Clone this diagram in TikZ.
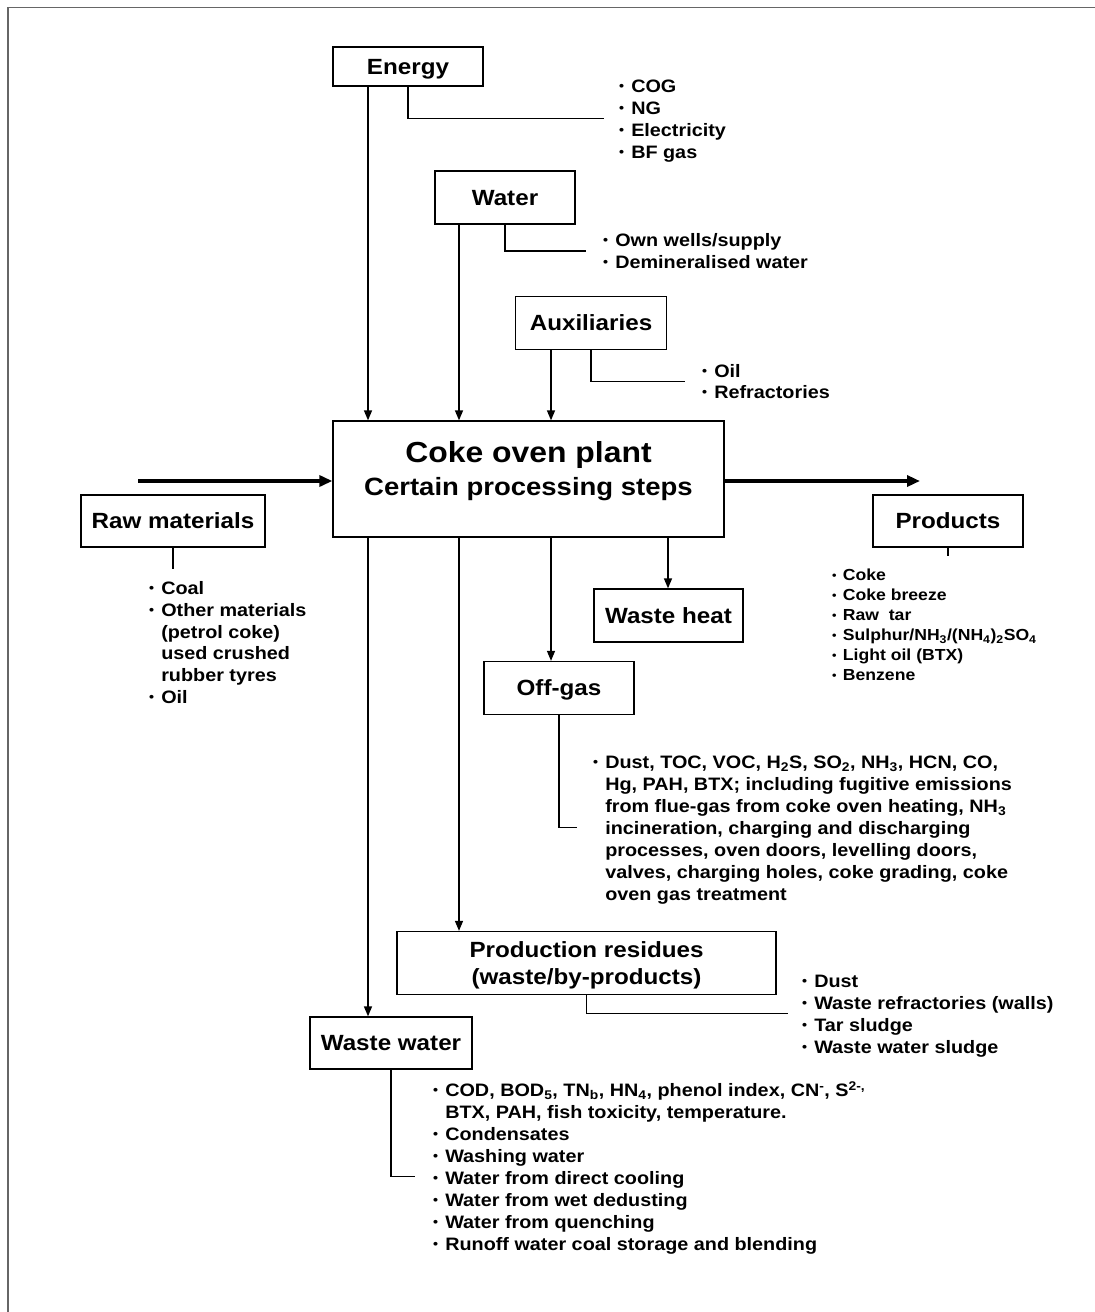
\documentclass[tikz,border=0pt]{standalone}
\usepackage{fontspec}
\setmainfont{Liberation Sans}[FakeStretch=1.1]
\usetikzlibrary{arrows.meta}
\newcommand\fsz[2]{\fontsize{#1}{#2}\selectfont\bfseries}
\newcommand\bl{\makebox[0.67em][l]{\raisebox{0.1em}{\scalebox{0.72}{\textbullet}}}}
\newcommand\hb{\hspace*{0.67em}}
\newcommand\dn[1]{\textsubscript{#1}}
\newcommand\up[1]{\textsuperscript{#1}}
\begin{document}
\begin{tikzpicture}[x=1pt,y=-1pt,
  box/.style={draw, line width=1.3pt, inner sep=0pt, font=\fsz{22}{27}, align=center, text height=15.8pt, text depth=0pt},
  conn/.style={line width=1.4pt, -{Triangle[length=10pt,width=8pt]}},
  bigarrow/.style={line width=4pt, -{Triangle[length=13pt,width=11pt]}},
  bracket/.style={line width=1.1pt},
  list/.style={anchor=base west, align=left, inner sep=0pt, font=\fsz{18}{22}},
  smalllist/.style={anchor=base west, align=left, inner sep=0pt, font=\fsz{16}{20}},
]
\useasboundingbox (0,0) rectangle (1095,1312);
\draw[line width=1.8pt, black!60] (8,1312) -- (8,7.5) -- (1095,7.5);

% boxes
\node[box, minimum width=150, minimum height=39] (energy) at (408,66.5) {Energy};
\node[box, minimum width=140, minimum height=53] (water) at (505,197.5) {Water};
\node[box, minimum width=151, minimum height=53] (aux) at (591,323) {Auxiliaries};
\node[draw, line width=1.3pt, inner sep=0pt, minimum width=391, minimum height=116] (coke) at (528.5,479) {};
\node[anchor=base, inner sep=0pt, font=\fsz{29}{34}] (coke1) at (528.5,462.5) {Coke oven plant};
\node[anchor=base, inner sep=0pt, font=\fsz{25}{30}] (coke2) at (528.5,495) {Certain processing steps};
\node[box, minimum width=184, minimum height=52] (raw) at (173,521) {Raw materials};
\node[box, minimum width=150, minimum height=52] (products) at (948,521) {Products};
\node[box, minimum width=149, minimum height=53] (heat) at (668.5,615.5) {Waste heat};
\node[box, minimum width=150, minimum height=53] (offgas) at (559,688) {Off-gas};
\node[box, minimum width=379, minimum height=63, text height=42.8pt] (resid) at (586.5,963) {Production residues\\(waste/by-products)};
\node[box, minimum width=162, minimum height=52] (wwater) at (391,1043) {Waste water};

% vertical arrows
\coordinate (x1) at (368,0);
\coordinate (x2) at (459,0);
\coordinate (x3) at (551,0);
\coordinate (x4) at (668,0);
\draw[conn] (energy.south -| x1) -- (coke.north -| x1);
\draw[conn] (water.south -| x2) -- (coke.north -| x2);
\draw[conn] (aux.south -| x3) -- (coke.north -| x3);
\draw[conn] (coke.south -| x1) -- (wwater.north -| x1);
\draw[conn] (coke.south -| x2) -- (resid.north -| x2);
\draw[conn] (coke.south -| x3) -- (offgas.north -| x3);
\draw[conn] (coke.south -| x4) -- (heat.north -| x4);

% thick arrows
\coordinate (rawin) at (138,481);
\coordinate (prodout) at (920,481);
\draw[bigarrow] (rawin) -- (coke.west |- rawin);
\draw[bigarrow] (coke.east |- prodout) -- (prodout);

% brackets
\coordinate (eb) at (604,118.5);
\coordinate (wb) at (586,251);
\coordinate (ab) at (685,381.5);
\coordinate (rb) at (173,569);
\coordinate (pb) at (948,556);
\coordinate (ob) at (577,827.5);
\coordinate (sb) at (788,1013.5);
\coordinate (qb) at (415,1176.5);
\draw[bracket] (energy.south) |- (eb);
\draw[bracket] (water.south) |- (wb);
\draw[bracket] (aux.south) |- (ab);
\draw[bracket] (raw.south) -- (rb);
\draw[bracket] (products.south) -- (pb);
\draw[bracket] (offgas.south) |- (ob);
\draw[bracket] (resid.south) |- (sb);
\draw[bracket] (wwater.south) |- (qb);

% lists (anchored at the baseline of their last line)
\node[list] (elist) at (619,158.5) {\bl COG\\ \bl NG\\ \bl Electricity\\ \bl BF gas};
\node[list] (wlist) at (603,268.5) {\bl Own wells/supply\\ \bl Demineralised water};
\node[list, font=\fsz{18}{21}] (alist) at (702,398.5) {\bl Oil\\ \bl Refractories};
\node[list, font=\fsz{18}{21.8}] (rlist) at (149,703.5) {\bl Coal\\ \bl Other materials\\ \hb (petrol coke)\\ \hb used crushed\\ \hb rubber tyres\\ \bl Oil};
\node[smalllist] (plist) at (832,680.7) {\bl Coke\\ \bl Coke breeze\\ \bl Raw\ \ tar\\ \bl Sulphur/NH\dn3/(NH\dn4)\dn2SO\dn4\\ \bl Light oil (BTX)\\ \bl Benzene};
\node[list] (olist) at (593,900.5) {\bl Dust, TOC, VOC, H\dn2S, SO\dn2, NH\dn3, HCN, CO,\\
 \hb Hg, PAH, BTX; including fugitive emissions\\
 \hb from flue-gas from coke oven heating, NH\dn3\\
 \hb incineration, charging and discharging\\
 \hb processes, oven doors, levelling doors,\\
 \hb valves, charging holes, coke grading, coke\\
 \hb oven gas treatment};
\node[list] (slist) at (802,1053.5) {\bl Dust\\ \bl Waste refractories (walls)\\ \bl Tar sludge\\ \bl Waste water sludge};
\node[list] (qlist) at (433,1250.5) {\bl COD, BOD\dn5, TN\dn{b}, HN\dn4, phenol index, CN\up{-}, S\up{2-,}\\
 \hb BTX, PAH, fish toxicity, temperature.\\
 \bl Condensates\\
 \bl Washing water\\
 \bl Water from direct cooling\\
 \bl Water from wet dedusting\\
 \bl Water from quenching\\
 \bl Runoff water coal storage and blending};
\end{tikzpicture}
\end{document}
